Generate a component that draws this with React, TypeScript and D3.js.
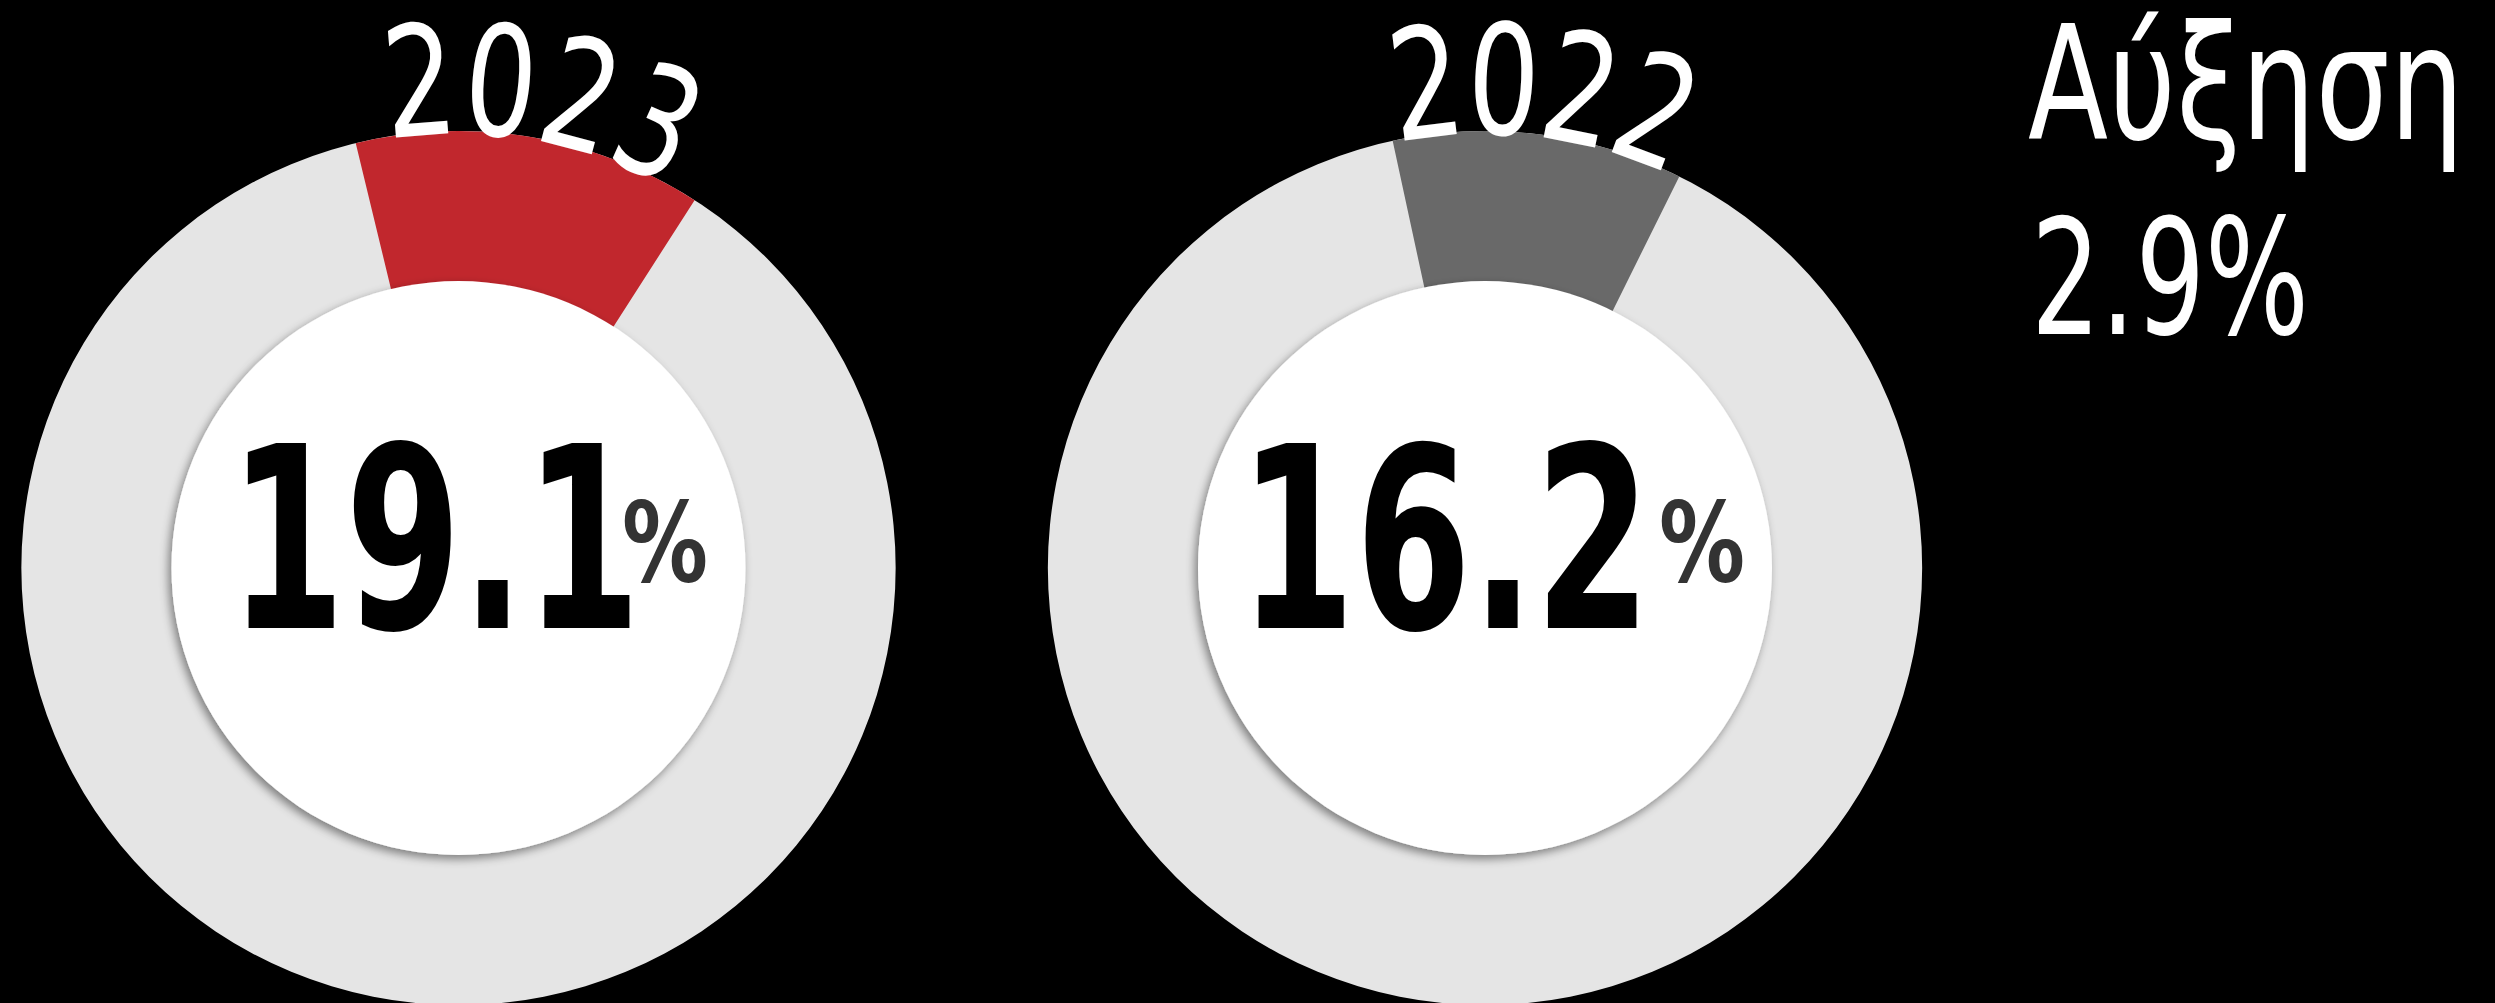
import React from "react";
import * as d3 from "d3";

// ---- data ----
const years = ["2023", "2022"];
const shares = [19.1, 16.2];
// highlighted wedge of each ring, in degrees clockwise from 12 o'clock (as drawn)
const wedgeStart = [-13.6, -12.2];
const wedgeEnd = [32.7, 26.4];
const wedgeColors = ["#C1272D", "#696969"];
const changeLabel = "Αύξηση";
const changeValue = 2.9;

const W = 2495;
const H = 1003;
const centersX = [458.5, 1485];
const CY = 568;
const R_OUT = 437;
const R_IN = 287;
const yearFirstCharDeg = [-4.6, -7.0];
const yearStepDeg = [9.6, 9.2];
const numberX = [229, 1239];
const pctX = [622, 1659];

const rad = (d: number) => (d * Math.PI) / 180;
const WHITE_FONT = "'DejaVu Sans', sans-serif";
const BOLD_FONT = "'DejaVu Sans', sans-serif";

export default function App() {
  const ring = d3.arc<any>().innerRadius(R_IN - 5).outerRadius(R_OUT);
  const fmt = d3.format(".1f");
  return (
    <svg
      width={W}
      height={H}
      style={{ position: "absolute", left: 0, top: 0, display: "block" }}
    >
      <defs>
        <filter id="sh" x="-20%" y="-20%" width="140%" height="140%">
          <feDropShadow dx={-3} dy={4} stdDeviation={5} floodColor="#000" floodOpacity={0.45} />
        </filter>
      </defs>
      <rect width={W} height={H} fill="#000" />
      {years.map((yr, i) => {
        const cx = centersX[i];
        const rT = 434;
        return (
          <g key={yr}>
            <g transform={`translate(${cx},${CY})`}>
              <path d={ring({ startAngle: 0, endAngle: 2 * Math.PI }) || ""} fill="#E5E5E5" />
              <path
                d={ring({ startAngle: rad(wedgeStart[i]), endAngle: rad(wedgeEnd[i]) }) || ""}
                fill={wedgeColors[i]}
              />
              <circle r={R_IN} fill="#fff" filter="url(#sh)" />
              {yr.split("").map((ch, k) => {
                const a = yearFirstCharDeg[i] + k * yearStepDeg[i];
                return (
                  <text
                    key={k}
                    transform={`rotate(${a}) translate(0,${-rT}) scale(0.735,1)`}
                    textAnchor="middle"
                    fontFamily={WHITE_FONT}
                    fontSize={154}
                    fill="#fff"
                  >
                    {ch}
                  </text>
                );
              })}
            </g>
            <text
              x={numberX[i]}
              y={628}
              fontFamily={BOLD_FONT}
              fontWeight="bold"
              fontSize={254}
              fill="#000"
              textLength={412}
              lengthAdjust="spacingAndGlyphs"
            >
              {fmt(shares[i])}
            </text>
            <text
              x={pctX[i]}
              y={581}
              fontFamily={BOLD_FONT}
              fontWeight="bold"
              fontSize={111}
              fill="#333"
              textLength={86}
              lengthAdjust="spacingAndGlyphs"
            >
              %
            </text>
          </g>
        );
      })}
      <text
        x={2028}
        y={139}
        fontFamily={WHITE_FONT}
        fontSize={159}
        fill="#fff"
        textLength={436}
        lengthAdjust="spacingAndGlyphs"
      >
        {changeLabel}
      </text>
      <text
        x={2031}
        y={334}
        fontFamily={WHITE_FONT}
        fontSize={160}
        fill="#fff"
        textLength={278}
        lengthAdjust="spacingAndGlyphs"
      >
        {fmt(changeValue)}%
      </text>
    </svg>
  );
}
